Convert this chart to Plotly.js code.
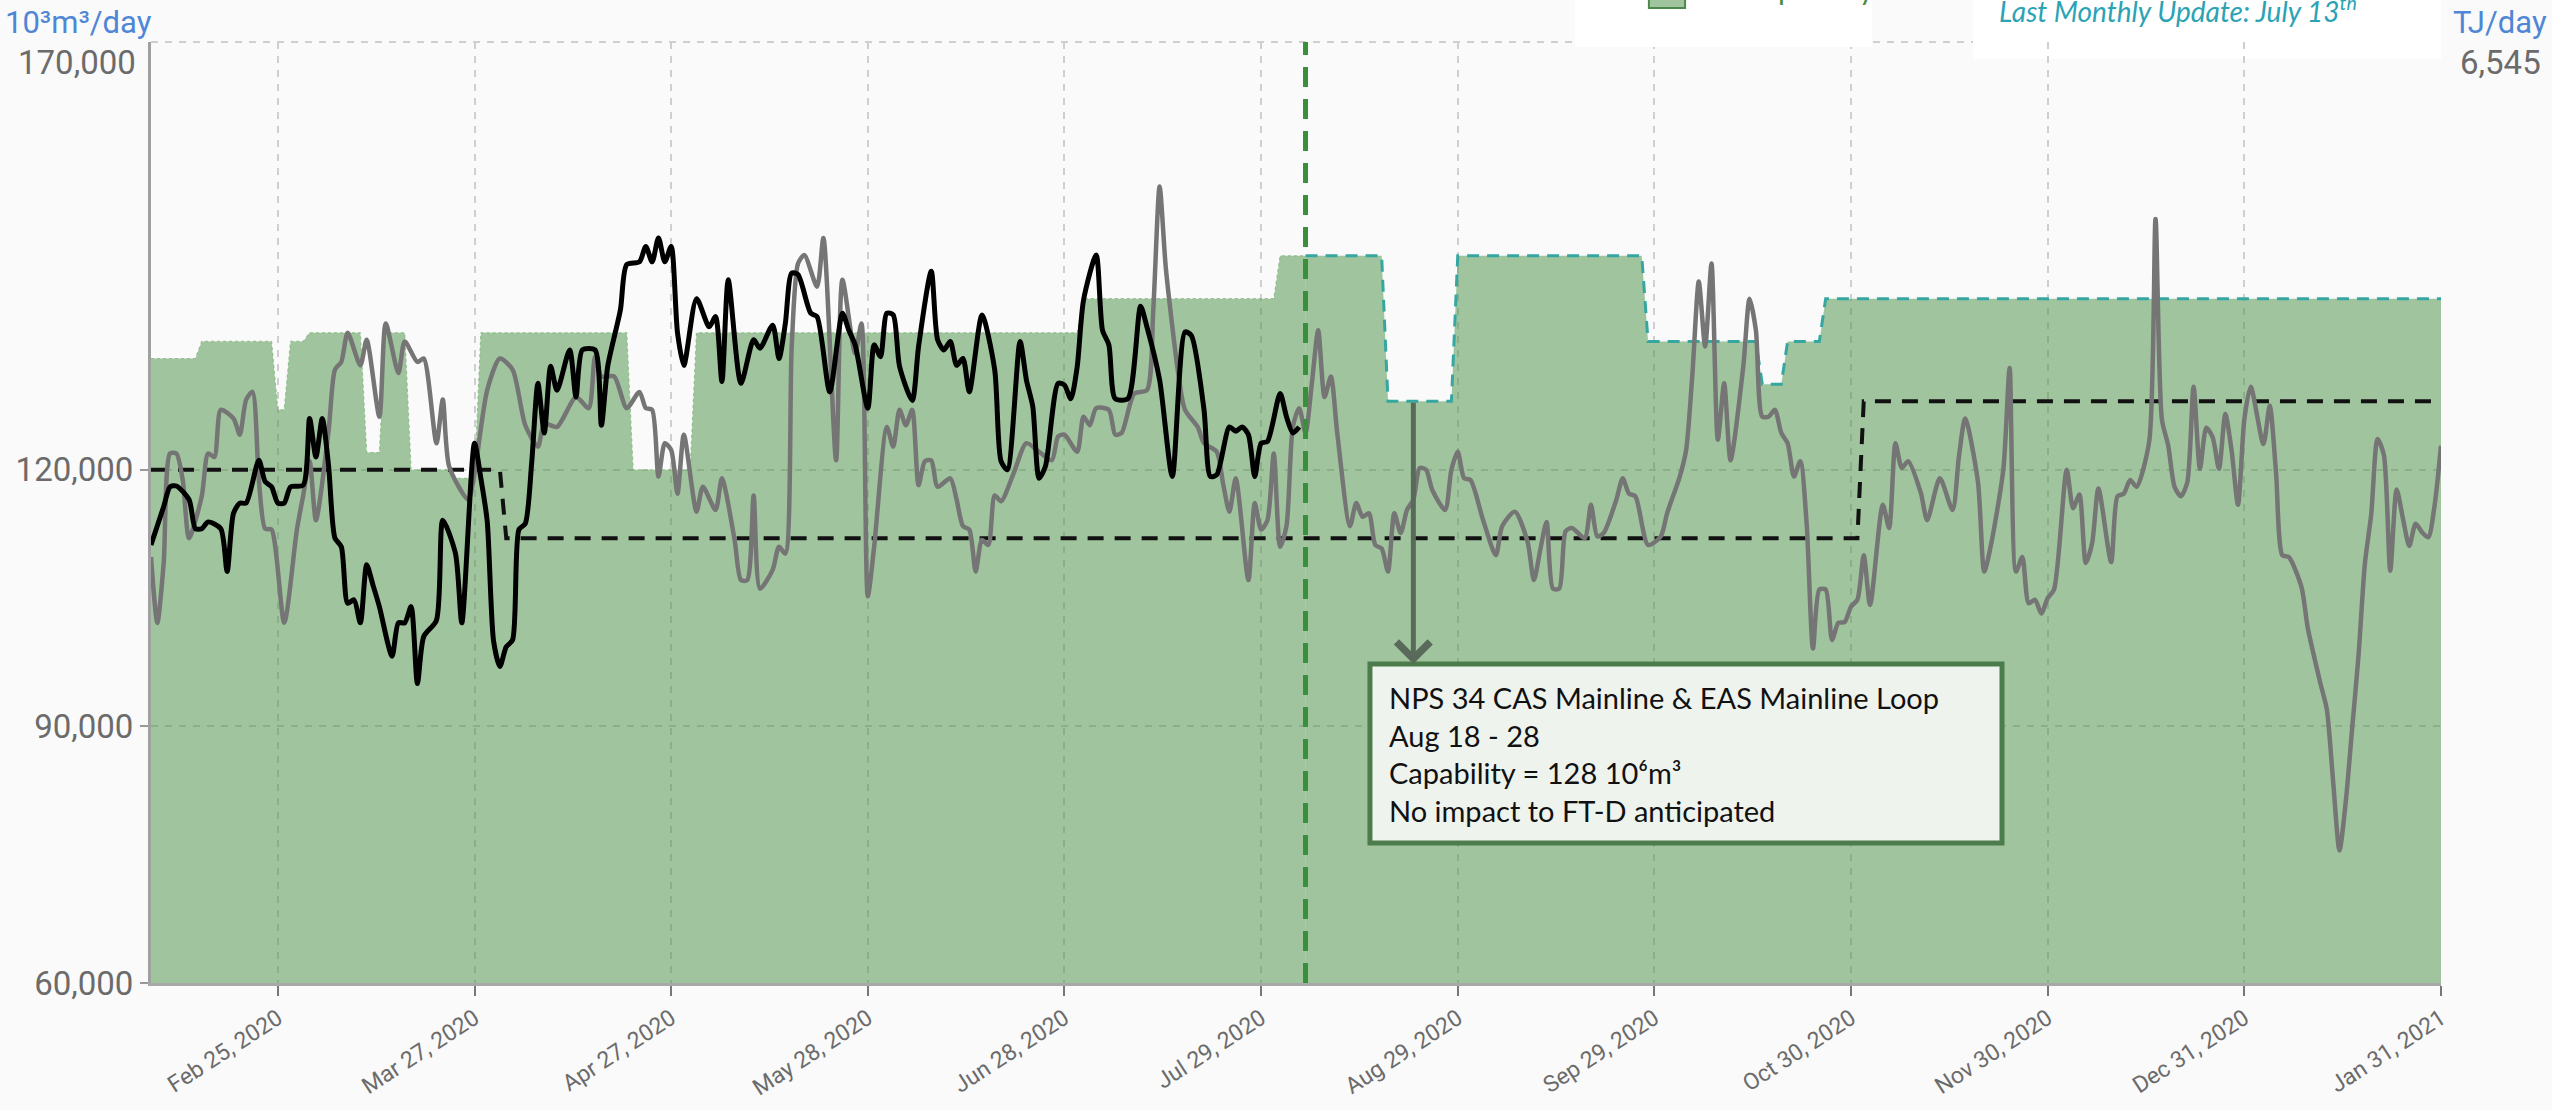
<!DOCTYPE html>
<html>
<head>
<meta charset="utf-8">
<script src="https://cdn.plot.ly/plotly-3.0.1.min.js"></script>
<style>
html,body{margin:0;padding:0;background:#fafafa;}
#chart{width:2552px;height:1110px;}
</style>
</head>
<body>
<div id="chart"></div>
<script>
// ---------------- DATA (10³m³/day) ----------------
const xTickDates = ['2020-02-25','2020-03-27','2020-04-27','2020-05-28','2020-06-28','2020-07-29',
  '2020-08-29','2020-09-29','2020-10-30','2020-11-30','2020-12-31','2021-01-31'];
const xTickLabels = ['Feb 25, 2020','Mar 27, 2020','Apr 27, 2020','May 28, 2020','Jun 28, 2020','Jul 29, 2020',
  'Aug 29, 2020','Sep 29, 2020','Oct 30, 2020','Nov 30, 2020','Dec 31, 2020','Jan 31, 2021'];
const yTickValues = [60000, 90000, 120000];
const yTickLabels = ['60,000', '90,000', '120,000'];
const yTopLabel = '170,000';
const y2TickValues = [2310, 3810];
const y2TickLabels = ['2,310', '3,810'];
const y2TopLabel = '6,545';
const xRange = ['2020-02-05', '2021-01-31'];
const yRange = [60000, 170000];
const y2Range = [2310, 6545];

// Capability (historic)
const capHistDates = ['2020-02-05','2020-02-12','2020-02-13','2020-02-24','2020-02-25','2020-02-26','2020-02-27','2020-02-29',
  '2020-03-01','2020-03-09','2020-03-10','2020-03-12','2020-03-13','2020-03-16','2020-03-17','2020-03-23','2020-03-24',
  '2020-03-27','2020-03-28','2020-04-20','2020-04-21','2020-04-30','2020-05-01','2020-06-30','2020-07-01','2020-07-31',
  '2020-08-01','2020-08-05'];
const capHistValues = [133000,133000,135000,135000,127000,127000,135000,135000,
  136000,136000,122000,122000,136000,136000,120000,120000,119000,
  119000,136000,136000,120000,120000,136000,136000,140000,140000,
  145000,145000];

// Capability (forecast)
const capFcstDates = ['2020-08-05','2020-08-17','2020-08-18','2020-08-28','2020-08-29','2020-09-27','2020-09-28',
  '2020-10-15','2020-10-16','2020-10-19','2020-10-20','2020-10-25','2020-10-26','2021-01-31'];
const capFcstValues = [145000,145000,128000,128000,145000,145000,135000,
  135000,130000,130000,135000,135000,140000,140000];

// Black dashed step line
const contractDates = ['2020-02-05','2020-03-31','2020-04-01','2020-10-31','2020-11-01','2021-01-31'];
const contractValues = [120000,120000,112000,112000,128000,128000];

// Gray line (prior period throughput)
const grayDates = ['2020-02-05','2020-02-06','2020-02-07','2020-02-08','2020-02-09','2020-02-10','2020-02-11','2020-02-13',
 '2020-02-14','2020-02-15','2020-02-16','2020-02-18','2020-02-19','2020-02-20','2020-02-21','2020-02-22','2020-02-23',
 '2020-02-24','2020-02-26','2020-02-28','2020-02-29','2020-03-01','2020-03-02','2020-03-04','2020-03-05','2020-03-06',
 '2020-03-07','2020-03-09','2020-03-10','2020-03-12','2020-03-13','2020-03-15','2020-03-16','2020-03-18','2020-03-19',
 '2020-03-21','2020-03-22','2020-03-23','2020-03-26','2020-03-27','2020-03-29','2020-03-31','2020-04-02','2020-04-04',
 '2020-04-06','2020-04-07','2020-04-09','2020-04-12','2020-04-14','2020-04-15','2020-04-16','2020-04-18','2020-04-20',
 '2020-04-22','2020-04-23','2020-04-24','2020-04-25','2020-04-26','2020-04-27','2020-04-28','2020-04-29','2020-05-01',
 '2020-05-02','2020-05-04','2020-05-05','2020-05-07','2020-05-08','2020-05-09','2020-05-10','2020-05-11','2020-05-13',
 '2020-05-14','2020-05-15','2020-05-16','2020-05-17','2020-05-18','2020-05-20','2020-05-21','2020-05-23','2020-05-24',
 '2020-05-26','2020-05-27','2020-05-28','2020-05-29','2020-05-31','2020-06-01','2020-06-02','2020-06-03','2020-06-04',
 '2020-06-05','2020-06-06','2020-06-07','2020-06-08','2020-06-10','2020-06-11','2020-06-12','2020-06-13','2020-06-14',
 '2020-06-15','2020-06-16','2020-06-17','2020-06-18','2020-06-20','2020-06-22','2020-06-24','2020-06-26','2020-06-27',
 '2020-06-28','2020-06-30','2020-07-01','2020-07-02','2020-07-03','2020-07-05','2020-07-06','2020-07-07','2020-07-09',
 '2020-07-11','2020-07-12','2020-07-13','2020-07-14','2020-07-16','2020-07-17','2020-07-19','2020-07-20','2020-07-22',
 '2020-07-23','2020-07-24','2020-07-25','2020-07-27','2020-07-28','2020-07-29','2020-07-30','2020-07-31','2020-08-01',
 '2020-08-02','2020-08-03','2020-08-04','2020-08-05','2020-08-06','2020-08-07','2020-08-08','2020-08-09','2020-08-10',
 '2020-08-12','2020-08-13','2020-08-14','2020-08-15','2020-08-16','2020-08-17','2020-08-18','2020-08-19','2020-08-20',
 '2020-08-21','2020-08-22','2020-08-23','2020-08-24','2020-08-25','2020-08-27','2020-08-28','2020-08-29','2020-08-30',
 '2020-08-31','2020-09-02','2020-09-04','2020-09-05','2020-09-07','2020-09-09','2020-09-10','2020-09-11','2020-09-12',
 '2020-09-13','2020-09-14','2020-09-15','2020-09-16','2020-09-18','2020-09-19','2020-09-20','2020-09-21','2020-09-23',
 '2020-09-24','2020-09-25','2020-09-26','2020-09-28','2020-09-30','2020-10-01','2020-10-03','2020-10-04','2020-10-05',
 '2020-10-06','2020-10-07','2020-10-08','2020-10-09','2020-10-10','2020-10-11','2020-10-13','2020-10-14','2020-10-15',
 '2020-10-16','2020-10-17','2020-10-18','2020-10-19','2020-10-20','2020-10-21','2020-10-22','2020-10-23','2020-10-24',
 '2020-10-25','2020-10-26','2020-10-27','2020-10-28','2020-10-29','2020-10-30','2020-10-31','2020-11-01','2020-11-02',
 '2020-11-04','2020-11-05','2020-11-06','2020-11-07','2020-11-08','2020-11-10','2020-11-11','2020-11-13','2020-11-15',
 '2020-11-16','2020-11-17','2020-11-19','2020-11-20','2020-11-21','2020-11-23','2020-11-24','2020-11-25','2020-11-26',
 '2020-11-27','2020-11-28','2020-11-29','2020-11-30','2020-12-01','2020-12-03','2020-12-04','2020-12-05','2020-12-06',
 '2020-12-07','2020-12-08','2020-12-10','2020-12-11','2020-12-12','2020-12-13','2020-12-14','2020-12-16','2020-12-17',
 '2020-12-18','2020-12-19','2020-12-20','2020-12-21','2020-12-22','2020-12-23','2020-12-24','2020-12-25','2020-12-26',
 '2020-12-27','2020-12-28','2020-12-29','2020-12-30','2020-12-31','2021-01-01','2021-01-03','2021-01-04','2021-01-05',
 '2021-01-06','2021-01-07','2021-01-09','2021-01-10','2021-01-12','2021-01-13','2021-01-14','2021-01-15','2021-01-16',
 '2021-01-17','2021-01-18','2021-01-19','2021-01-20','2021-01-21','2021-01-22','2021-01-23','2021-01-24','2021-01-25',
 '2021-01-26','2021-01-27','2021-01-28','2021-01-29','2021-01-30','2021-01-31'];
const grayValues = [109800,102100,109100,121900,121900,118800,112000,116900,
 121900,121500,127000,126000,124100,128200,129100,118800,113100,
 113000,102100,113000,117000,121000,114100,124600,131700,132600,
 136000,132200,135200,126200,137100,131300,135000,132600,133000,
 123100,128200,120400,116500,119600,129300,133000,131700,125200,
 122700,125400,125000,128500,127200,133200,130900,130900,127200,
 129100,127200,127000,119200,123100,122300,117200,124100,115100,
 118000,115300,119000,111800,107100,107100,117000,106100,108300,
 111000,110200,134400,144100,145100,141400,147100,121100,142200,
 133600,137100,105200,111000,125000,122700,127000,125200,127000,
 118200,121000,121100,118000,119000,116500,113400,113000,108100,
 111800,111200,117000,116300,119600,123100,122100,121100,123900,
 124100,122100,126200,125200,127200,127000,124100,124300,128900,
 129300,138700,153100,143400,130900,127000,125000,123100,122100,
 118400,115100,119000,107100,116100,113000,114100,121900,111000,
 113400,125000,127200,124300,130100,136300,128500,130900,124300,
 113400,116100,114500,114900,111200,110800,108100,114900,112600,
 115300,116500,120200,120000,117600,115300,120000,122100,119000,
 118800,114100,110000,113400,115100,111600,107100,110600,113900,
 106100,106100,112800,113200,112000,115900,112200,112600,116500,
 119000,117200,116900,111200,112200,114900,119200,122300,131300,
 142000,134400,144100,123500,130100,121100,132000,140000,136300,
 126200,126200,127000,124300,123100,119200,121000,113700,99100,
 106000,106000,100100,102100,102200,104000,104800,110000,104200,
 115900,113200,123100,120200,121000,117300,114100,119000,115300,
 121500,126000,118600,108100,111000,120000,131900,108100,109800,
 104400,104800,103200,105000,106000,120000,115500,117100,109100,
 111400,117800,109200,116900,117200,118800,118000,123300,149300,
 125900,122800,118000,116900,118500,129700,120100,124900,123800,
 120100,126500,122200,115900,125900,129700,123000,127500,119600,
 110000,109800,106300,101500,95000,92000,83500,75500,81300,
 89800,98300,109000,114800,123600,121700,108200,117700,114300,
 111100,113700,112700,112100,115900,122800];

// Black line (2020 actual throughput)
const blackDates = ['2020-02-05','2020-02-07','2020-02-08','2020-02-09','2020-02-11','2020-02-12','2020-02-13','2020-02-14',
 '2020-02-16','2020-02-17','2020-02-18','2020-02-19','2020-02-20','2020-02-22','2020-02-23','2020-02-24','2020-02-25',
 '2020-02-26','2020-02-27','2020-02-29','2020-03-01','2020-03-02','2020-03-03','2020-03-04','2020-03-05','2020-03-06',
 '2020-03-07','2020-03-08','2020-03-09','2020-03-10','2020-03-11','2020-03-12','2020-03-14','2020-03-15','2020-03-16',
 '2020-03-17','2020-03-18','2020-03-19','2020-03-21','2020-03-22','2020-03-24','2020-03-25','2020-03-27','2020-03-28',
 '2020-03-29','2020-03-30','2020-03-31','2020-04-01','2020-04-02','2020-04-03','2020-04-04','2020-04-05','2020-04-06',
 '2020-04-07','2020-04-08','2020-04-09','2020-04-11','2020-04-12','2020-04-13','2020-04-15','2020-04-16','2020-04-17',
 '2020-04-19','2020-04-20','2020-04-22','2020-04-23','2020-04-24','2020-04-25','2020-04-26','2020-04-27','2020-04-28',
 '2020-04-29','2020-05-01','2020-05-03','2020-05-04','2020-05-05','2020-05-06','2020-05-08','2020-05-10','2020-05-11',
 '2020-05-13','2020-05-14','2020-05-15','2020-05-16','2020-05-17','2020-05-19','2020-05-20','2020-05-22','2020-05-24',
 '2020-05-25','2020-05-26','2020-05-28','2020-05-29','2020-05-30','2020-05-31','2020-06-01','2020-06-02','2020-06-04',
 '2020-06-05','2020-06-07','2020-06-08','2020-06-09','2020-06-10','2020-06-11','2020-06-12','2020-06-13','2020-06-15',
 '2020-06-17','2020-06-18','2020-06-19','2020-06-21','2020-06-22','2020-06-23','2020-06-24','2020-06-25','2020-06-27',
 '2020-06-28','2020-06-29','2020-06-30','2020-07-01','2020-07-03','2020-07-04','2020-07-05','2020-07-06','2020-07-08',
 '2020-07-10','2020-07-11','2020-07-13','2020-07-15','2020-07-17','2020-07-18','2020-07-20','2020-07-21','2020-07-22',
 '2020-07-24','2020-07-25','2020-07-26','2020-07-27','2020-07-28','2020-07-29','2020-07-30','2020-08-01','2020-08-02',
 '2020-08-03','2020-08-04'];
const blackValues = [111200,115700,118000,118100,116500,113100,113100,113900,
 113100,108100,114900,116100,116100,121100,118600,118000,116100,
 116100,118000,118200,126000,121500,126000,120400,112000,111000,
 104400,104800,102100,108900,106500,104000,98200,102100,102100,
 104000,95000,100500,102400,114100,110200,102100,123100,119000,
 114000,100000,97000,99300,100100,113000,113700,120700,130100,
 124300,132100,129300,134000,128500,134000,134000,125200,132100,
 138700,144000,144300,146100,144300,147100,144300,146100,136000,
 132200,140000,136700,137900,130300,142200,130100,135200,134200,
 136900,133000,137100,143000,142800,138300,137900,129100,138300,
 136300,134600,127200,134600,133200,138300,138100,132100,128100,
 134400,143200,135200,134000,135000,132200,133000,129100,138100,
 131700,121000,120000,135000,130500,127400,119000,120400,130100,
 129900,128300,132000,139800,145100,136300,134600,128300,128300,
 139100,136700,130500,119200,136100,135700,127000,119200,119400,
 125000,124500,125000,124100,119200,123100,123300,128900,126200,
 124300,125000];

// Event markers
const todayDate = '2020-08-05';
const outageDate = '2020-08-22';
const outageCapability = 128000;

// ---------------- CHART ----------------
const fillGreen = 'rgba(80,150,75,0.53)';
const traces = [
  {x: capHistDates, y: capHistValues, type: 'scatter', mode: 'lines', fill: 'tozeroy',
   fillcolor: fillGreen, line: {color: 'rgba(130,185,125,0.8)', width: 1.2, dash: 'dot'},
   name: 'Capability', hoverinfo: 'skip'},
  {x: capFcstDates, y: capFcstValues, type: 'scatter', mode: 'lines', fill: 'tozeroy',
   fillcolor: fillGreen, line: {color: '#36a6a0', width: 3, dash: '12px,8px'},
   name: 'Capability forecast', hoverinfo: 'skip'},
  {x: contractDates, y: contractValues, type: 'scatter', mode: 'lines',
   line: {color: '#111111', width: 4, dash: '16px,11px'}, name: 'Contract'},
  {x: grayDates, y: grayValues, type: 'scatter', mode: 'lines',
   line: {color: '#757575', width: 4.5, shape: 'spline', smoothing: 0.7}, name: 'Prior'},
  {x: blackDates, y: blackValues, type: 'scatter', mode: 'lines',
   line: {color: '#000000', width: 5, shape: 'spline', smoothing: 0.7}, name: 'Actual'}
];

const boxPaper = {x0: 0.5323, x1: 0.8083, y0: 0.1488, y1: 0.339};
const boxTopValue = yRange[0] + boxPaper.y1 * (yRange[1] - yRange[0]);

const tickFont = {family: 'Roboto, Arial, sans-serif', size: 33, color: '#6b6b6b'};

const layout = {
  width: 2552, height: 1110,
  margin: {l: 151, r: 111, t: 42, b: 127},
  paper_bgcolor: '#fafafa', plot_bgcolor: '#fafafa',
  showlegend: false,
  xaxis: {
    type: 'date', range: xRange,
    tickvals: xTickDates, ticktext: xTickLabels, tickangle: -33,
    tickfont: {family: 'Roboto, Arial, sans-serif', size: 23, color: '#6b6b6b'},
    ticks: 'outside', ticklen: 10, tickwidth: 2, tickcolor: '#777',
    showgrid: true, gridcolor: '#cfcfcf', gridwidth: 2, griddash: '7px,7px',
    showline: true, linecolor: '#a8a8a8', linewidth: 3, zeroline: false
  },
  yaxis: {
    range: yRange, tickvals: yTickValues, ticktext: yTickLabels,
    tickfont: tickFont, ticks: 'outside', ticklen: 8, tickwidth: 2, tickcolor: '#999',
    showgrid: true, gridcolor: '#cfcfcf', gridwidth: 2, griddash: '7px,7px',
    showline: true, linecolor: '#a0a0a0', linewidth: 3, zeroline: false
  },
  yaxis2: {
    overlaying: 'y', side: 'right', anchor: 'x', range: y2Range,
    tickvals: y2TickValues, ticktext: y2TickLabels,
    tickfont: tickFont, ticks: 'outside', ticklen: 10, tickwidth: 2, tickcolor: '#999',
    showgrid: false, showline: true, linecolor: '#a8a8a8', linewidth: 3, zeroline: false
  },
  shapes: [
    {type: 'line', xref: 'paper', yref: 'paper', x0: 0, x1: 1, y0: 1, y1: 1,
     line: {color: '#cfcfcf', width: 2, dash: '7px,7px'}, layer: 'below'},
    {type: 'line', xref: 'x', yref: 'paper', x0: todayDate, x1: todayDate, y0: 0, y1: 1,
     line: {color: '#3a8f3a', width: 5, dash: '20px,12px'}, layer: 'above'},
    {type: 'rect', xref: 'paper', yref: 'paper', x0: boxPaper.x0, x1: boxPaper.x1, y0: boxPaper.y0, y1: boxPaper.y1,
     fillcolor: '#eef3ee', line: {color: '#4c7b4c', width: 5}, layer: 'above'},
    {type: 'rect', xref: 'paper', yref: 'paper', x0: 0.6218, x1: 0.7515, y0: 0.9947, y1: 1.07,
     fillcolor: '#ffffff', line: {width: 0}, layer: 'above'},
    {type: 'rect', xref: 'paper', yref: 'paper', x0: 0.6541, x1: 0.6699, y0: 1.0361, y1: 1.07,
     fillcolor: '#a0c49d', line: {color: '#4c8a4c', width: 2}, layer: 'above'},
    {type: 'rect', xref: 'paper', yref: 'paper', x0: 0.7956, x1: 1.0, y0: 0.9817, y1: 1.07,
     fillcolor: '#ffffff', line: {width: 0}, layer: 'below'}
  ],
  annotations: [
    {xref: 'x', yref: 'y', axref: 'x', ayref: 'y', x: outageDate, y: boxTopValue,
     ax: outageDate, ay: outageCapability, text: '', showarrow: true,
     arrowhead: 4, arrowsize: 1.3, arrowwidth: 5, arrowcolor: '#5a6a5a'},
    {xref: 'paper', yref: 'paper', x: 0.5397, y: 0.3241, xanchor: 'left', yanchor: 'top', align: 'left',
     showarrow: false, font: {family: 'Lato, "Open Sans", sans-serif', size: 29, color: '#111'},
     text: 'NPS 34 CAS Mainline &amp; EAS Mainline Loop<br>Aug 18 - 28<br>Capability = 128 10⁶m³<br>No impact to FT-D anticipated'},
    {xref: 'paper', yref: 'paper', x: -0.0646, y: 1.0202, xanchor: 'left', yanchor: 'middle', showarrow: false,
     text: '10³m³/day', font: {family: 'Roboto, Arial, sans-serif', size: 31, color: '#4f86d6'}},
    {xref: 'paper', yref: 'paper', x: 1.0044, y: 1.0202, xanchor: 'left', yanchor: 'middle', showarrow: false,
     text: 'TJ/day', font: {family: 'Roboto, Arial, sans-serif', size: 31, color: '#4f86d6'}},
    {xref: 'paper', yref: 'paper', x: -0.0057, y: 0.9777, xanchor: 'right', yanchor: 'middle', showarrow: false,
     text: yTopLabel, font: tickFont},
    {xref: 'paper', yref: 'paper', x: 1.0074, y: 0.9777, xanchor: 'left', yanchor: 'middle', showarrow: false,
     text: y2TopLabel, font: tickFont},
    {xref: 'paper', yref: 'paper', x: 0.8061, y: 1.0345, xanchor: 'left', yanchor: 'middle', showarrow: false,
     text: '<i>Last Monthly Update: July 13<sup>th</sup></i>',
     font: {family: 'Lato, "Open Sans", sans-serif', size: 28, color: '#2ba3b5'}},
    {xref: 'paper', yref: 'paper', x: 0.6943, y: 1.036, xanchor: 'left', yanchor: 'bottom', showarrow: false,
     text: 'Capability', font: {family: 'Lato, "Open Sans", sans-serif', size: 30, color: '#4c8a3c'}}
  ]
};

Plotly.newPlot('chart', traces, layout, {displayModeBar: false, staticPlot: true});
</script>
</body>
</html>
